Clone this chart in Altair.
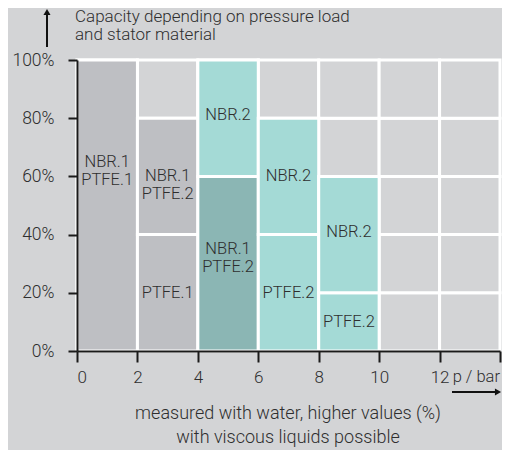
import altair as alt
import pandas as pd

# Data
x_start = [0, 2, 2, 4, 4, 6, 6, 8, 8]
x_end = [2, 4, 4, 6, 6, 8, 8, 10, 10]
y_low = [0, 0, 40, 0, 60, 0, 40, 0, 20]
y_high = [100, 40, 80, 60, 100, 40, 80, 20, 60]
kinds = ["gray", "gray", "gray", "darkteal", "teal", "teal", "teal", "teal", "teal"]
labels = ["NBR.1\nPTFE.1", "PTFE.1", "NBR.1\nPTFE.2", "NBR.1\nPTFE.2", "NBR.2",
          "PTFE.2", "NBR.2", "PTFE.2", "NBR.2"]
label_y = [65, 20, 60, 35, 81, 20, 60, 10, 41]
x_ticks = [0, 2, 4, 6, 8, 10, 12, 14]
y_ticks = [0, 20, 40, 60, 80, 100]

df = pd.DataFrame({
    "x0": x_start, "x1": x_end, "y0": y_low, "y1": y_high,
    "kind": kinds, "label": labels, "ly": label_y,
})
df["xc"] = (df["x0"] + df["x1"]) / 2

# background grid cells built from the tick lists
cells = pd.DataFrame([
    {"gx0": a, "gx1": b, "gy0": c, "gy1": d}
    for a, b in zip(x_ticks[:-1], x_ticks[1:])
    for c, d in zip(y_ticks[:-1], y_ticks[1:])
])

BG = "#d3d4d6"
TXT = "#2e2e2e"
FONT = "Roboto"

xscale = alt.Scale(domain=[0, 14], nice=False)
yscale = alt.Scale(domain=[0, 100], nice=False)

xaxis = alt.Axis(values=x_ticks, title=None, grid=False,
                 domainColor="#1a1a1a", domainWidth=2, tickColor="#1a1a1a",
                 tickWidth=2, tickSize=11, labelPadding=7, labelFontSize=17,
                 labelColor=TXT, labelFont=FONT, labelFontWeight=300,
                 labelExpr="datum.value == 14 ? '' : datum.label", zindex=1)
yaxis = alt.Axis(values=y_ticks, title=None, grid=False,
                 domainColor="#1a1a1a", domainWidth=2, tickColor="#1a1a1a",
                 tickWidth=2, tickSize=9, labelPadding=14, labelFontSize=17.5,
                 labelColor=TXT, labelFont=FONT, labelFontWeight=300,
                 labelExpr="datum.value + '%'", zindex=1)

grid = alt.Chart(cells).mark_rect(fill=BG, stroke="white", strokeWidth=3).encode(
    x=alt.X("gx0:Q", scale=xscale, axis=xaxis),
    x2="gx1:Q",
    y=alt.Y("gy0:Q", scale=yscale, axis=yaxis),
    y2="gy1:Q",
)

rects = alt.Chart(df).mark_rect(stroke="white", strokeWidth=3).encode(
    x=alt.X("x0:Q", scale=xscale),
    x2="x1:Q",
    y=alt.Y("y0:Q", scale=yscale),
    y2="y1:Q",
    color=alt.Color("kind:N", legend=None,
                    scale=alt.Scale(domain=["gray", "darkteal", "teal"],
                                    range=["#bebfc3", "#8bb6b4", "#a4dad6"])),
)

texts = alt.Chart(df).mark_text(fontSize=16.5, font=FONT, fontWeight=300, color=TXT,
                                lineBreak="\n", lineHeight=18, baseline="middle").encode(
    x=alt.X("xc:Q", scale=xscale),
    y=alt.Y("ly:Q", scale=yscale),
    text="label:N",
)

def note(lines, x, y, align="left", size=15, lh=16):
    return alt.Chart(pd.DataFrame({"t": [lines]})).mark_text(
        align=align, baseline="alphabetic", fontSize=size, font=FONT, fontWeight=300,
        color=TXT, lineBreak="\n", lineHeight=lh
    ).encode(x=alt.value(x), y=alt.value(y), text="t:N")

title = note("Capacity depending on pressure load\nand stator material", -2, -38, size=17, lh=18)
pbar = note("p / bar", 423, 322, align="right", size=16.5)
bottom = alt.Chart(pd.DataFrame({"t": ["measured with water, higher values (%)\nwith viscous liquids possible"]})).mark_text(
    align="center", baseline="alphabetic", fontSize=18, font=FONT, fontWeight=300,
    color=TXT, lineBreak="\n", lineHeight=24
).encode(x=alt.value(211), y=alt.value(359), text="t:N")

up_line = alt.Chart(pd.DataFrame({"a": [0]})).mark_rule(color="#111", strokeWidth=2).encode(
    x=alt.value(-30), y=alt.value(-46), y2=alt.value(-13))
up_head = alt.Chart(pd.DataFrame({"a": [0]})).mark_point(
    shape="triangle-up", filled=True, color="#111", size=50, opacity=1).encode(
    x=alt.value(-30), y=alt.value(-48))
right_line = alt.Chart(pd.DataFrame({"a": [0]})).mark_rule(color="#111", strokeWidth=2).encode(
    x=alt.value(375), x2=alt.value(420), y=alt.value(332))
right_head = alt.Chart(pd.DataFrame({"a": [0]})).mark_point(
    shape="triangle-right", filled=True, color="#111", size=50, opacity=1).encode(
    x=alt.value(421), y=alt.value(332))

chart = alt.layer(grid, rects, texts, title, pbar, bottom, up_line, up_head, right_line, right_head).properties(
    width=423, height=291,
    background=BG,
    autosize=alt.AutoSizeParams(type="none"),
    padding={"left": 69, "top": 52, "right": 2, "bottom": 99},
).configure_view(fill=BG, stroke=None)

chart.save("out.html", embed_options={"renderer": "svg", "actions": False})
